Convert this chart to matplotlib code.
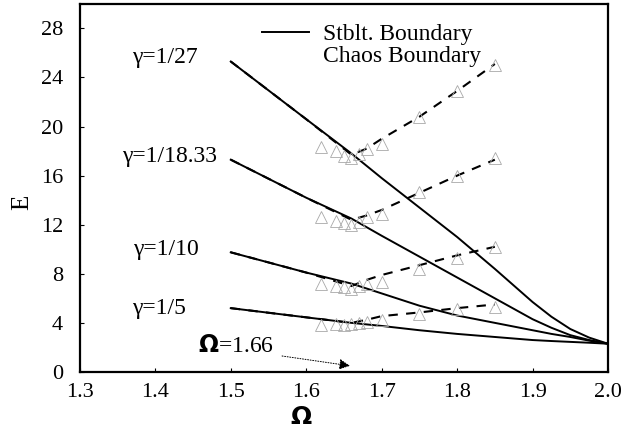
import matplotlib
matplotlib.use("Agg")
import matplotlib.pyplot as plt
from matplotlib.lines import Line2D

plt.rcParams['font.family'] = ['Liberation Serif', 'DejaVu Serif']

# stability boundary, E vs Omega
omega_s = [1.5, 1.6, 1.66, 1.7, 1.75, 1.8, 1.85, 1.9, 1.925, 1.95, 1.975, 2.0]
stab_27 = [25.3, 20.6, 17.8, 15.8, 13.4, 11.0, 8.4, 5.7, 4.5, 3.5, 2.8, 2.3]
stab_1833 = [17.3, 14.2, 12.5, 11.1, 9.4, 7.7, 6.0, 4.3, 3.6, 3.0, 2.6, 2.3]
stab_10 = [9.75, 8.1, 7.2, 6.4, 5.4, 4.6, 4.0, 3.4, 3.1, 2.85, 2.55, 2.3]
stab_5 = [5.2, 4.45, 4.0, 3.75, 3.4, 3.1, 2.85, 2.6, 2.52, 2.45, 2.38, 2.3]

# chaos boundary
omega_c = [1.5, 1.6, 1.66, 1.68, 1.7, 1.75, 1.8, 1.85]
chaos_27 = [25.3, 20.6, 17.7, 18.2, 19.0, 20.8, 22.9, 25.1]
chaos_1833 = [17.3, 14.2, 12.4, 12.75, 13.2, 14.6, 16.0, 17.3]
chaos_10 = [9.75, 8.1, 7.0, 7.5, 7.9, 8.7, 9.5, 10.2]
chaos_5 = [5.2, 4.45, 4.0, 4.25, 4.55, 4.85, 5.2, 5.5]

# simulation points (triangles)
tri_omega = [1.62, 1.64, 1.65, 1.66, 1.67, 1.68, 1.70, 1.75, 1.80, 1.85]
tri_27 = [18.3, 18.0, 17.6, 17.4, 17.8, 18.2, 18.6, 20.8, 22.9, 25.0]
tri_1833 = [12.6, 12.3, 12.1, 12.0, 12.2, 12.6, 12.9, 14.7, 16.0, 17.4]
tri_10 = [7.2, 7.0, 6.9, 6.8, 7.0, 7.2, 7.3, 8.4, 9.3, 10.2]
tri_5 = [3.8, 3.9, 3.8, 3.9, 4.0, 4.1, 4.2, 4.7, 5.1, 5.3]

labels = ['γ=1/27', 'γ=1/18.33', 'γ=1/10', 'γ=1/5']
label_pos = [(1.412, 25.6), (1.419, 17.6), (1.414, 10.0), (1.405, 5.2)]

fig = plt.figure(figsize=(6.34, 4.29), dpi=100)
ax = fig.add_axes([0.126, 0.133, 0.833, 0.858])

for s in [stab_27, stab_1833, stab_10, stab_5]:
    ax.plot(omega_s, s, color='black', lw=1.4)
for c in [chaos_27, chaos_1833, chaos_10, chaos_5]:
    ax.plot(omega_c, c, color='black', lw=1.5, ls=(0, (4.5, 4)))
for t in [tri_27, tri_1833, tri_10, tri_5]:
    ax.plot(tri_omega, t, ls='none', marker='^', ms=9, mfc='none',
            mec='#a8a8a8', mew=0.6)

for lab, (x, y) in zip(labels, label_pos):
    ax.text(x, y, lab, ha='center', va='center', fontsize=17)

ax.text(1.456, 2.1, r'$\mathbf{\Omega}$=1.66', fontsize=17, va='center', ha='left')
ax.annotate('', xy=(1.658, 0.5), xytext=(1.568, 1.3),
            arrowprops=dict(arrowstyle='-|>', color='black', lw=0.7,
                            ls=':', mutation_scale=16, shrinkA=0, shrinkB=0))

handles = [Line2D([], [], color='black', lw=1.4), Line2D([], [], ls='none')]
ax.legend(handles, ['Stblt. Boundary', 'Chaos Boundary'], loc='upper left',
          bbox_to_anchor=(0.318, 0.985), frameon=False, fontsize=17,
          handlelength=2.0, handletextpad=0.6, labelspacing=0.0,
          borderaxespad=0.2)

ax.set_xlim(1.3, 2.0)
ax.set_ylim(0, 30)
ax.set_xticks([1.3, 1.4, 1.5, 1.6, 1.7, 1.8, 1.9, 2.0])
ax.set_xticklabels(['1.3', '1.4', '1.5', '1.6', '1.7', '1.8', '1.9', '2.0'])
ax.set_yticks([0, 4, 8, 12, 16, 20, 24, 28])
ax.tick_params(direction='in', length=3, labelsize=16)
ax.tick_params(axis='x', pad=8)
ax.tick_params(axis='y', pad=12)
for sp in ax.spines.values():
    sp.set_linewidth(1.6)

ax.set_xlabel(r'$\mathbf{\Omega}$', fontsize=18)
ax.xaxis.set_label_coords(0.419, -0.095)
ax.set_ylabel('E', fontsize=18)
ax.yaxis.set_label_coords(-0.088, 0.46)

fig.savefig('out.png', dpi=100)
